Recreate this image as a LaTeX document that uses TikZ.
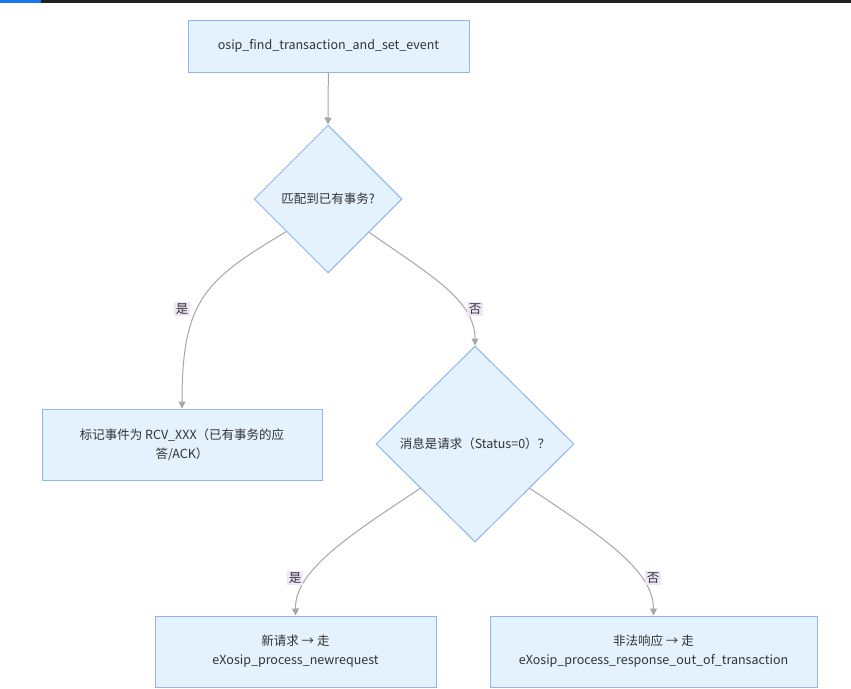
\documentclass[tikz,border=0pt]{standalone}
\usepackage{fontspec}
\setmainfont{Noto Sans CJK SC}
\usetikzlibrary{shapes.geometric,arrows.meta}
\definecolor{boxfill}{HTML}{E3F2FD}
\definecolor{boxline}{HTML}{90B4F4}
\definecolor{edgec}{HTML}{A6A6A6}
\definecolor{txt}{HTML}{333333}
\definecolor{lblfill}{HTML}{EEE6F8}
\tikzset{
  procbox/.style={draw=boxline, fill=boxfill, line width=1pt, text=txt, align=center, inner sep=0pt, font=\fontsize{12.5}{19}\selectfont},
  decide/.style={diamond, aspect=1, draw=boxline, fill=boxfill, line width=1pt, text=txt, inner sep=0pt, font=\fontsize{12.5}{16}\selectfont},
  edge/.style={draw=edgec, line width=1pt, -{Triangle[length=7pt,width=7pt]}},
  elabel/.style={fill=lblfill, text=txt, inner sep=1.5pt, font=\fontsize{12.5}{14}\selectfont}
}
\begin{document}
\begin{tikzpicture}[x=1pt,y=-1pt]
\useasboundingbox (0,0) rectangle (851,688);
\fill[fill={rgb,255:red,34;green,34;blue,34}] (0,0) rectangle (851,2.5);
\fill[fill={rgb,255:red,26;green,115;blue,232}] (0,0) rectangle (41,2.5);

\node[procbox, minimum width=281pt, minimum height=52pt] (top) at (328.5,46) {osip\_find\_transaction\_and\_set\_event};
\node[decide, minimum width=148pt, minimum height=148pt] (d1) at (328,199) {匹配到已有事务?};
\node[procbox, minimum width=280pt, minimum height=71pt] (mark) at (182,444.5) {标记事件为 RCV\_XXX（已有事务的应\\答/ACK）};
\node[decide, minimum width=198pt, minimum height=196pt] (d2) at (475,444) {消息是请求（Status=0）？};
\node[procbox, minimum width=281pt, minimum height=71pt] (newreq) at (295.5,651.5) {新请求 → 走\\eXosip\_process\_newrequest};
\node[procbox, minimum width=327pt, minimum height=71pt] (bad) at (653.5,651.5) {非法响应 → 走\\eXosip\_process\_response\_out\_of\_transaction};

\draw[edge] (top) -- (d1.north);
\draw[edge] (d1.218.8) .. controls (205,280) and (182,300) .. (mark.north);
\draw[edge] (d1.321.8) .. controls (430,275) and (475,300) .. (d2.north);
\draw[edge] (d2.219.3) .. controls (350,535) and (295,570) .. (newreq.north);
\draw[edge] (d2.321.8) .. controls (600,535) and (653.5,570) .. (bad.north);

\node[elabel] (l1) at (182,309) {是};
\node[elabel] (l2) at (475,309) {否};
\node[elabel] (l3) at (295,578) {是};
\node[elabel] (l4) at (653,578) {否};
\end{tikzpicture}
\end{document}
